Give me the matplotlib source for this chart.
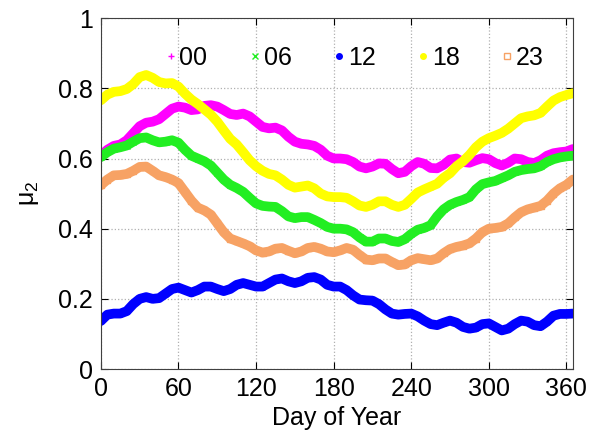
import matplotlib
matplotlib.use('Agg')
import matplotlib.pyplot as plt
from matplotlib.lines import Line2D

plt.rcParams['font.family'] = ['Liberation Sans', 'DejaVu Sans']

days = list(range(0, 366, 5))

mu_00 = [0.608, 0.625, 0.636, 0.64, 0.652, 0.672, 0.692, 0.702, 0.705, 0.712, 0.727, 0.742, 0.748,
         0.745, 0.738, 0.74, 0.75, 0.752, 0.748, 0.738, 0.727, 0.724, 0.728, 0.72, 0.705, 0.69,
         0.686, 0.688, 0.68, 0.662, 0.648, 0.642, 0.64, 0.636, 0.625, 0.608, 0.6, 0.6, 0.598,
         0.59, 0.577, 0.572, 0.577, 0.586, 0.585, 0.57, 0.558, 0.562, 0.578, 0.59, 0.585, 0.573,
         0.572, 0.582, 0.597, 0.6, 0.59, 0.588, 0.595, 0.601, 0.598, 0.587, 0.58, 0.588, 0.6,
         0.598, 0.59, 0.587, 0.595, 0.608, 0.615, 0.618, 0.62, 0.627]
mu_06 = [0.604, 0.618, 0.628, 0.632, 0.637, 0.648, 0.658, 0.66, 0.652, 0.646, 0.648, 0.652, 0.645,
         0.625, 0.608, 0.6, 0.592, 0.58, 0.56, 0.54, 0.525, 0.516, 0.505, 0.488, 0.472, 0.465,
         0.463, 0.462, 0.45, 0.435, 0.43, 0.433, 0.433, 0.425, 0.416, 0.405, 0.4, 0.4, 0.398,
         0.39, 0.375, 0.363, 0.363, 0.372, 0.372, 0.365, 0.362, 0.37, 0.385, 0.397, 0.402, 0.41,
         0.435, 0.455, 0.468, 0.476, 0.482, 0.49, 0.512, 0.527, 0.532, 0.536, 0.544, 0.552, 0.562,
         0.567, 0.57, 0.572, 0.578, 0.59, 0.598, 0.603, 0.606, 0.608]
mu_12 = [0.137, 0.155, 0.158, 0.158, 0.165, 0.185, 0.2, 0.205, 0.2, 0.202, 0.215, 0.228, 0.232,
         0.225, 0.218, 0.225, 0.235, 0.235, 0.228, 0.222, 0.228, 0.24, 0.245, 0.24, 0.235, 0.235,
         0.245, 0.255, 0.258, 0.25, 0.245, 0.25, 0.26, 0.262, 0.255, 0.24, 0.235, 0.235, 0.225,
         0.21, 0.198, 0.196, 0.195, 0.185, 0.17, 0.158, 0.155, 0.157, 0.158, 0.15, 0.138, 0.128,
         0.125, 0.132, 0.138, 0.132, 0.12, 0.115, 0.118, 0.128, 0.13, 0.12, 0.11, 0.115, 0.128,
         0.138, 0.135, 0.125, 0.122, 0.135, 0.152, 0.157, 0.157, 0.158]
mu_18 = [0.766, 0.782, 0.79, 0.792, 0.798, 0.812, 0.832, 0.838, 0.83, 0.818, 0.814, 0.815, 0.805,
         0.785, 0.768, 0.755, 0.74, 0.725, 0.705, 0.68, 0.656, 0.64, 0.618, 0.595, 0.578, 0.565,
         0.556, 0.552, 0.54, 0.525, 0.517, 0.52, 0.523, 0.515, 0.5, 0.492, 0.49, 0.49, 0.488,
         0.478, 0.466, 0.462, 0.468, 0.478, 0.478, 0.468, 0.462, 0.468, 0.485, 0.503, 0.512, 0.52,
         0.528, 0.545, 0.558, 0.578, 0.592, 0.61, 0.632, 0.648, 0.658, 0.665, 0.673, 0.685, 0.7,
         0.715, 0.72, 0.723, 0.73, 0.748, 0.765, 0.775, 0.781, 0.786]
mu_23 = [0.524, 0.54, 0.552, 0.553, 0.556, 0.565, 0.576, 0.577, 0.565, 0.552, 0.547, 0.54, 0.53,
         0.505, 0.48, 0.46, 0.452, 0.44, 0.415, 0.39, 0.372, 0.365, 0.358, 0.35, 0.338, 0.332,
         0.335, 0.343, 0.345, 0.337, 0.33, 0.335, 0.345, 0.348, 0.343, 0.335, 0.333, 0.338, 0.345,
         0.34, 0.325, 0.312, 0.31, 0.315, 0.315, 0.305, 0.296, 0.298, 0.31, 0.316, 0.313, 0.31,
         0.315, 0.33, 0.342, 0.348, 0.352, 0.358, 0.372, 0.39, 0.4, 0.402, 0.405, 0.415, 0.432,
         0.447, 0.455, 0.46, 0.465, 0.48, 0.5, 0.515, 0.525, 0.54]

labels = ['00', '06', '12', '18', '23']
series = [mu_00, mu_06, mu_12, mu_18, mu_23]
colors = ['#ff00ff', '#22ee22', '#0000ff', '#ffff00', '#f7a264']
markers = ['+', 'x', 'o', 'o', 's']

fig = plt.figure(figsize=(5.9, 4.43), dpi=100)
ax = fig.add_axes([0.171, 0.167, 0.8, 0.792])

for vals, c, m in zip(series, colors, markers):
    ax.plot(days, vals, color=c, lw=7, marker=m, ms=4, mfc=c, mec=c,
            solid_capstyle='round', solid_joinstyle='round')

ax.set_xlim(0, 365)
ax.set_ylim(0, 1)
ax.set_xticks(range(0, 361, 60))
ax.set_yticks([0, 0.2, 0.4, 0.6, 0.8, 1])
ax.set_yticklabels(['0', '0.2', '0.4', '0.6', '0.8', '1'])
ax.tick_params(direction='in', length=5, labelsize=18, top=True, right=True,
               labeltop=False, labelright=False, pad=6)
ax.grid(True, linestyle=':', color='#b0b0b0', lw=0.9)
for s in ax.spines.values():
    s.set_color('#404040')
ax.set_xlabel('Day of Year', fontsize=18, labelpad=3)
ax.set_ylabel(r'$\mathregular{\mu_2}$', fontsize=18, labelpad=12)

handles = [Line2D([], [], ls='none', marker=m, color=c, mfc=c if m != 's' else 'none',
                  mec=c, ms=4) for c, m in zip(colors, markers)]
ax.legend(handles, labels, loc='upper center', ncol=5, frameon=False, fontsize=18,
          handlelength=0.6, handletextpad=0.05, columnspacing=1.6,
          bbox_to_anchor=(0.535, 0.985))

fig.savefig('out.png', dpi=100)
